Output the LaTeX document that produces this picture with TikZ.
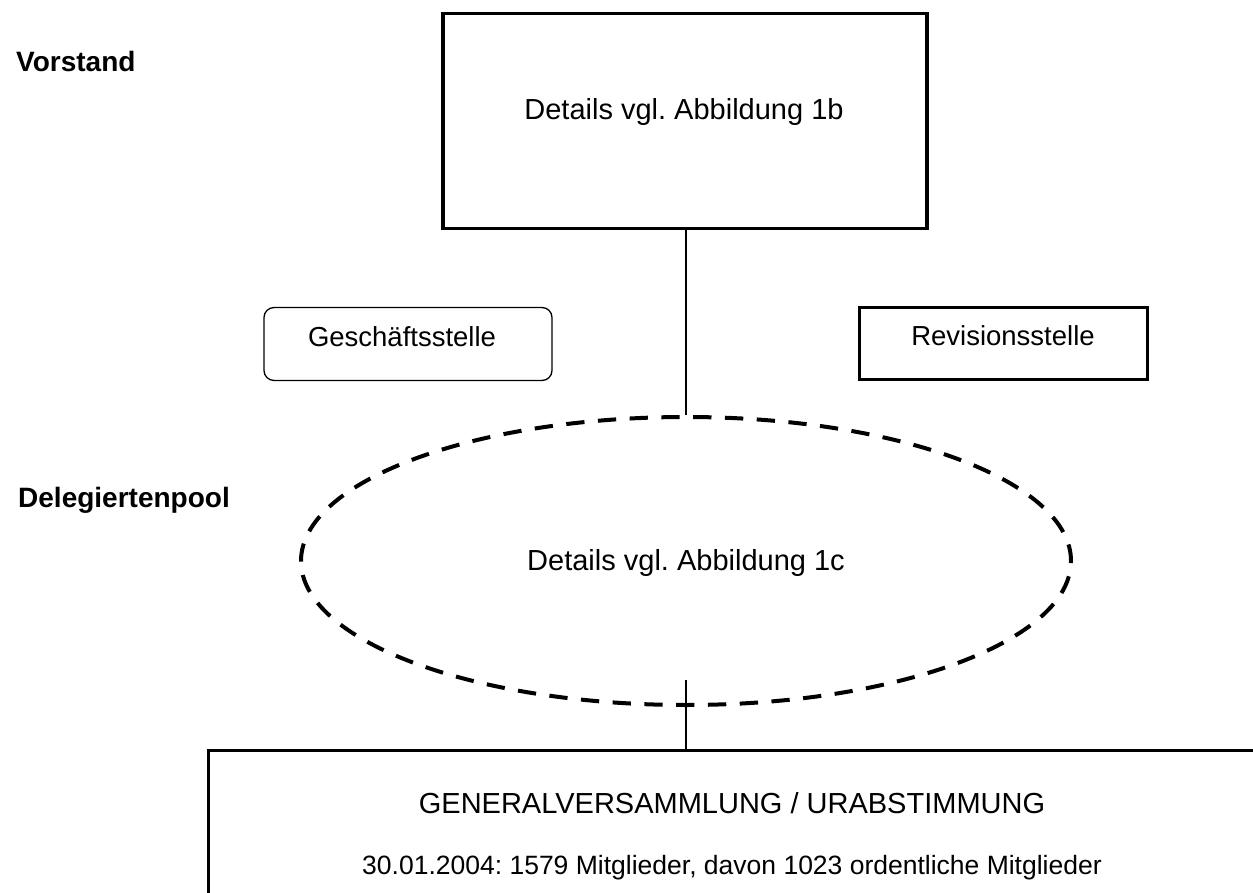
\documentclass[tikz,border=0pt]{standalone}
\usepackage{fontspec}
\setmainfont{Liberation Sans}
\usetikzlibrary{shapes.geometric}
\frenchspacing
\begin{document}
\begin{tikzpicture}[x=1pt,y=-1pt,
  txt/.style={inner sep=0pt, anchor=base},
  big/.style={txt, font=\fontsize{29}{34}\selectfont},
  mid/.style={txt, font=\fontsize{27.5}{33}\selectfont},
  small/.style={txt, font=\fontsize{26.5}{32}\selectfont},
  head/.style={font=\fontsize{28}{33}\selectfont\bfseries, inner sep=0pt, anchor=base west},
  thickbox/.style={draw, line width=3.5pt, inner sep=0pt},
  medbox/.style={draw, line width=3pt, inner sep=0pt},
  roundbox/.style={draw, line width=1.3pt, rounded corners=10pt, inner sep=0pt},
  pooloval/.style={ellipse, draw, line width=4pt, dash pattern=on 18.3pt off 13.5pt, dash phase=1.5pt, inner sep=0pt},
  link/.style={draw, line width=1.3pt}]
\useasboundingbox (0,0) rectangle (1253,893);
\clip (0,0) rectangle (1253,893);
% side labels
\node[head] (vorstand) at (16,72) {Vorstand};
\node[head] (delegierte) at (18,507) {Delegiertenpool};
% Vorstand box
\node[thickbox, minimum width=484pt, minimum height=215pt] (vbox) at (685,121) {};
\node[big] (vtext) at (684,120) {Details vgl. Abbildung 1b};
% Geschaeftsstelle
\node[roundbox, minimum width=288pt, minimum height=73pt] (gbox) at (408,344) {};
\node[mid] (gtext) at (402,346) {Geschäftsstelle};
% Revisionsstelle
\node[medbox, minimum width=288pt, minimum height=72pt] (rbox) at (1003,343.5) {};
\node[mid] (rtext) at (1003,345) {Revisionsstelle};
% Delegiertenpool ellipse
\node[pooloval, minimum width=770pt, minimum height=288pt] (pool) at (686,561) {};
\node[big] (ptext) at (686,570) {Details vgl. Abbildung 1c};
% Generalversammlung box
\node[thickbox, minimum width=1052pt, minimum height=200pt, anchor=north west] (gv) at (206.5,748.5) {};
\node[big] (gvtitle) at (732,813) {GENERALVERSAMMLUNG / URABSTIMMUNG};
\node[small] (gvinfo) at (732,874) {30.01.2004: 1579 Mitglieder, davon 1023 ordentliche Mitglieder};
% connectors
\path[link] (pool.north |- vbox.south) -- (pool.north);
\coordinate (lowstart) at (686,680);
\path[link] (lowstart) -- (lowstart |- gv.north);
\end{tikzpicture}
\end{document}
